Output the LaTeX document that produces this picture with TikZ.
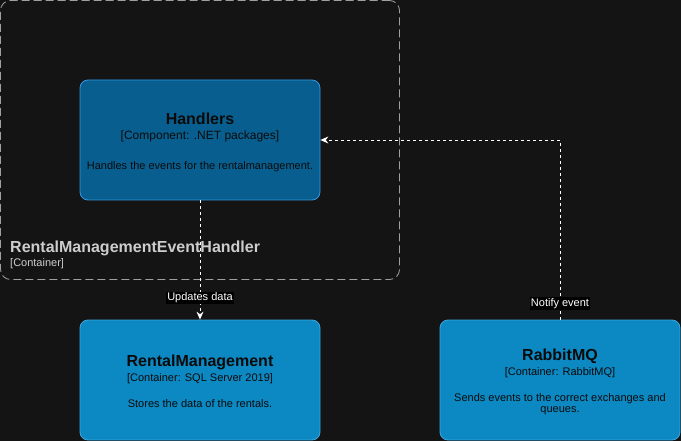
\documentclass[tikz,border=0pt]{standalone}
\usepackage{fontspec}
\setmainfont{Liberation Sans}
\usetikzlibrary{positioning, arrows.meta}

\definecolor{bgdark}{RGB}{20,20,20}
\definecolor{compfill}{RGB}{8,95,143}
\definecolor{compline}{RGB}{50,150,225}
\definecolor{contfill}{RGB}{12,136,194}
\definecolor{contline}{RGB}{60,165,225}
\definecolor{bndline}{RGB}{160,160,160}
\definecolor{bndtext}{RGB}{205,205,205}
\definecolor{boxtext}{RGB}{10,10,10}

\tikzset{
	box/.style={draw, line width=0.8pt, rounded corners=8pt, minimum width=240pt, minimum height=120pt, align=center, text=boxtext, font=\fontsize{11}{13}\selectfont},
	component/.style={box, fill=compfill, draw=compline},
	container/.style={box, fill=contfill, draw=contline},
	boundary/.style={draw=bndline, line width=0.8pt, dash pattern=on 8pt off 4pt, rounded corners=10pt, minimum width=399pt, minimum height=279pt},
	flow/.style={draw=white, line width=0.9pt, dash pattern=on 3pt off 3pt, -{Stealth[length=8pt, width=7pt]}},
	lbl/.style={fill=black, text=white, inner sep=1pt, font=\fontsize{11}{13}\selectfont},
}

\begin{document}
\begin{tikzpicture}[x=1pt, y=-1pt]
	\fill[bgdark] (0,0) rectangle (681,441);
	\useasboundingbox (0,0) rectangle (681,441);

	% system boundary
	\node[boundary] (bnd) at (200,140) {};
	\node[anchor=base west, text=bndtext, font=\fontsize{16}{18}\selectfont\bfseries, inner sep=0pt] (bndname) at (10,252.5) {RentalManagementEventHandler};
	\node[anchor=base west, text=bndtext, font=\fontsize{11}{13}\selectfont, inner sep=0pt] (bndtype) at (10,266) {[Container]};

	\node[component] (hnd) at (200,140) {\rule{0pt}{17pt}{\fontsize{16}{16}\selectfont\bfseries Handlers}\\[2pt]
		{\fontsize{12}{14}\selectfont [Component: .NET packages]}\\[17pt]
		Handles the events for the rentalmanagement.};
	\node[container] (rdb) at (200,380) {\rule{0pt}{15pt}{\fontsize{16}{16}\selectfont\bfseries RentalManagement}\\[2pt]
		[Container: SQL Server 2019]\\[13pt]
		Stores the data of the rentals.};
	\node[container] (rmq) at (560,380) {\rule{0pt}{15.5pt}{\fontsize{16}{16}\selectfont\bfseries RabbitMQ}\\[2pt]
		[Container: RabbitMQ]\\[13pt]
		Sends events to the correct exchanges and\\[-1.5pt]
		queues.};

	\draw[flow] (hnd) -- node[lbl, pos=0.82] {Updates data} (rdb);
	\draw[flow] (rmq.north) |- node[lbl, pos=0.045] {Notify event} (hnd.east);
\end{tikzpicture}
\end{document}
